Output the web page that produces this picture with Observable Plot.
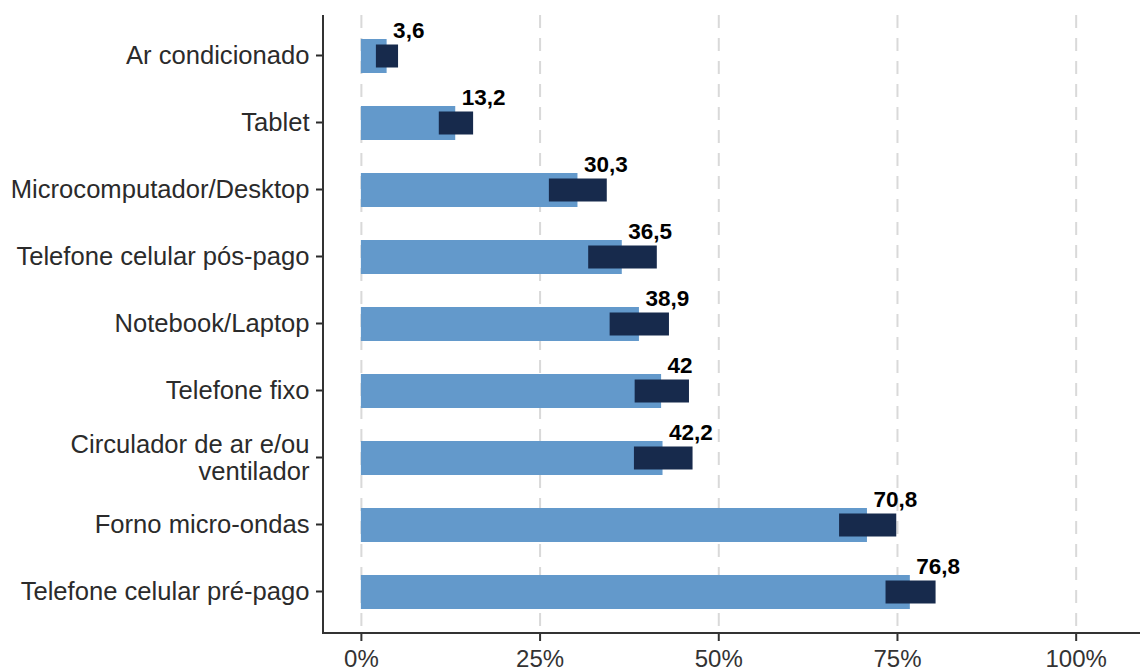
<!DOCTYPE html>
<html><head><meta charset="utf-8">
<script src="https://cdn.jsdelivr.net/npm/d3@7"></script>
<script src="https://cdn.jsdelivr.net/npm/@observablehq/plot@0.6"></script>
<style>body{margin:0;background:#fff} svg{display:block}</style>
</head><body><div id="chart"></div>
<script>
const categories = [
  "Ar condicionado",
  "Tablet",
  "Microcomputador/Desktop",
  "Telefone celular pós-pago",
  "Notebook/Laptop",
  "Telefone fixo",
  "Circulador de ar e/ou\nventilador",
  "Forno micro-ondas",
  "Telefone celular pré-pago"
];
const values = [3.6, 13.2, 30.3, 36.5, 38.9, 42, 42.2, 70.8, 76.8];
const lower  = [2.1, 10.9, 26.3, 31.8, 34.8, 38.3, 38.2, 66.9, 73.4];
const upper  = [5.2, 15.7, 34.4, 41.4, 43.1, 45.9, 46.4, 74.9, 80.4];
const xTicks = [0, 25, 50, 75, 100];
const xDomain = [-5.3, 109];

const data = categories.map((c, i) => ({
  category: c, value: values[i], lo: lower[i], hi: upper[i],
  label: String(values[i]).replace(".", ",")
}));

const axisLines = (index, scales, values, dim) => {
  const g = d3.create("svg:g").attr("stroke", "#333").attr("stroke-width", 2);
  const b = dim.height - dim.marginBottom;
  g.append("line").attr("x1", dim.marginLeft).attr("x2", dim.width - dim.marginRight).attr("y1", b).attr("y2", b);
  g.append("line").attr("x1", dim.marginLeft).attr("x2", dim.marginLeft).attr("y1", dim.marginTop).attr("y2", b + 1);
  return g.node();
};

const chart = Plot.plot({
  width: 1140, height: 671,
  marginLeft: 323, marginRight: 0, marginTop: 15, marginBottom: 38,
  style: {fontFamily: "'Liberation Sans', Arial, sans-serif", background: "#fff"},
  x: {domain: xDomain},
  y: {domain: categories, paddingInner: 0.5, paddingOuter: 0.336},
  marks: [
    Plot.ruleX(xTicks, {stroke: "#d9d9d9", strokeWidth: 2, strokeDasharray: "13,10"}),
    Plot.barX(data, {y: "category", x1: 0, x2: "value", fill: "#6399cb"}),
    Plot.barX(data, {y: "category", x1: "lo", x2: "hi", fill: "#172a4c", insetTop: 5.5, insetBottom: 5.5}),
    Plot.text(data, {y: "category", x: "value", text: "label", textAnchor: "start", dx: 6, dy: -26, fontWeight: "bold", fontSize: 22.5, fill: "#000"}),
    Plot.axisX({ticks: xTicks, tickFormat: d => d + "%", tickSize: 8, tickPadding: 8, fontSize: 24, strokeWidth: 2, color: "#333", label: null}),
    Plot.axisY({tickSize: 7, tickPadding: 7, fontSize: 25.6, lineHeight: 1.05, dy: -1, strokeWidth: 2, color: "#2b2b2b", label: null}),
    axisLines
  ]
});
document.getElementById("chart").appendChild(chart);
</script>
</body></html>
